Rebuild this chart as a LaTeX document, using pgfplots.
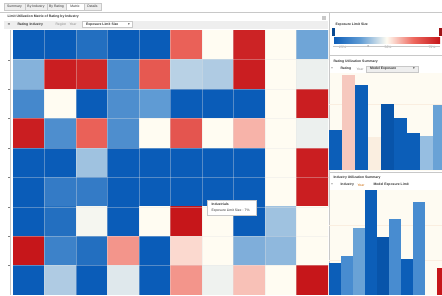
\documentclass[border=0pt]{standalone}
\usepackage{pgfplots}
\pgfplotsset{compat=1.18}
\usepackage{fontspec}
\setmainfont{Liberation Sans}
\newfontfamily\symf{DejaVu Sans}
\definecolor{dblue}{RGB}{12,94,184}
\definecolor{ddblue}{RGB}{8,84,170}
\definecolor{mblue}{RGB}{72,140,208}
\definecolor{mlblue}{RGB}{105,162,214}
\definecolor{lblue}{RGB}{150,190,225}
\definecolor{lpink}{RGB}{246,200,190}
\definecolor{cream}{RGB}{254,251,242}
\definecolor{pcream}{RGB}{250,238,224}
\definecolor{dred}{RGB}{198,22,26}
\definecolor{tbgray}{RGB}{238,238,238}
\definecolor{lgray}{RGB}{200,200,200}
\definecolor{txt}{RGB}{50,50,50}
\definecolor{ltxt}{RGB}{140,140,140}
\newcommand\tf{\fontsize{3.4}{4}\selectfont}
\begin{document}
\begin{tikzpicture}[font=\tf]
\useasboundingbox (0pt,0pt) rectangle (442pt,-295pt);
\fill[white] (0pt,0pt) rectangle (442pt,-295pt);
% tabs
\draw[lgray, fill=tbgray] (4pt,-3pt) rectangle (25pt,-10pt);
\draw[lgray, fill=tbgray] (25pt,-3pt) rectangle (47pt,-10pt);
\draw[lgray, fill=tbgray] (47pt,-3pt) rectangle (66pt,-10pt);
\draw[lgray, fill=white] (66pt,-3pt) rectangle (84pt,-10pt);
\draw[lgray, fill=tbgray] (84pt,-3pt) rectangle (101pt,-10pt);
\node[txt] at (14.5pt,-6.5pt) {Summary};
\node[txt] at (36pt,-6.5pt) {By Industry};
\node[txt] at (56.5pt,-6.5pt) {By Rating};
\node[txt] at (75pt,-6.5pt) {Matrix};
\node[txt] at (92.5pt,-6.5pt) {Details};
\draw[lgray] (0pt,-12pt) -- (442pt,-12pt);
% left title and toolbar
\node[anchor=west, txt, font=\tf\bfseries] at (4pt,-16.5pt) {Limit Utilization Matrix of Rating by Industry};
\fill[tbgray] (4pt,-20.5pt) rectangle (328pt,-28.5pt);
\node[txt] at (9pt,-24.5pt) {\symf ≡};
\node[anchor=west, txt, font=\tf\bfseries] at (14pt,-24.5pt) {Rating};
\node[anchor=west, txt, font=\tf\bfseries] at (26pt,-24.5pt) {Industry};
\node[anchor=west, ltxt] at (52pt,-24.5pt) {Region};
\node[anchor=west, ltxt] at (66pt,-24.5pt) {Year};
\draw[lgray, fill=white] (82pt,-21.5pt) rectangle (132pt,-27.5pt);
\node[anchor=west, txt, font=\tf\bfseries] at (82.5pt,-24.5pt) {Exposure Limit Size};
\node[txt] at (129pt,-24.5pt) {\symf ▾};
\fill[lgray] (322pt,-16pt) rectangle (326pt,-20pt);
% separators
\draw[lgray] (329pt,-12pt) -- (329pt,-295pt);
\draw[lgray] (10pt,-30pt) -- (10pt,-295pt);
\foreach \yy in {60,89,118,148,177,207,236,265} {\draw[gray] (8pt,-\yy pt) -- (10pt,-\yy pt);}
% right panels background
\fill[cream] (330pt,-73pt) rectangle (442pt,-171pt);
\fill[cream] (330pt,-190pt) rectangle (442pt,-295pt);
\draw[lgray] (329pt,-55pt) -- (442pt,-55pt);
\draw[lgray] (329pt,-172pt) -- (442pt,-172pt);
% heatmap
\begin{axis}[
  at={(13pt,-30pt)}, anchor=north west,
  width=315pt, height=265pt, scale only axis,
  xmin=-0.5, xmax=9.5, ymin=-0.5, ymax=8.5, y dir=reverse,
  colormap={bluered}{rgb255=(10,92,184) rgb255=(95,155,212) rgb255=(255,252,242) rgb255=(238,105,95) rgb255=(198,22,26)},
  point meta min=-1, point meta max=1,
  xtick={0.5,1.5,...,8.5}, ytick={0.5,1.5,...,7.5},
  xticklabels={}, yticklabels={},
  major tick length=0pt,
  grid=major, major grid style={white!80!gray, line width=0.3pt, opacity=0.35},
  axis on top, axis line style={draw=none},
  colorbar horizontal,
  colorbar style={
    at={(parent axis.north east)}, anchor=north west, xshift=5pt, yshift=1pt,
    width=107pt, height=6pt, scale only axis,
    xtick={-0.82,0.03,0.85}, xticklabels={25\%,50\%,75\%},
    major tick length=0pt, axis line style={draw=none},
    xticklabel style={font=\tf, text=ltxt},
    xticklabel shift=-1pt,
  },
]
\addplot[matrix plot*, point meta=explicit, mesh/cols=10] table[meta=c] {
x y c
0 0 -1
1 0 -1
2 0 -0.85
3 0 -1
4 0 -1
5 0 0.55
6 0 0.0
7 0 0.92
8 0 0.0
9 0 -0.45
0 1 -0.38
1 1 0.95
2 1 0.9
3 1 -0.62
4 1 0.6
5 1 -0.22
6 1 -0.25
7 1 0.95
8 1 0.0
9 1 -0.06
0 2 -0.65
1 2 0.0
2 2 -1
3 2 -0.6
4 2 -0.5
5 2 -1
6 2 -1
7 2 -1
8 2 0.0
9 2 0.95
0 3 0.95
1 3 -0.6
2 3 0.55
3 3 -0.6
4 3 0.0
5 3 0.62
6 3 0.0
7 3 0.25
8 3 0.0
9 3 -0.06
0 4 -1
1 4 -1
2 4 -0.3
3 4 -1
4 4 -1
5 4 -1
6 4 -1
7 4 -1
8 4 0.0
9 4 0.95
0 5 -1
1 5 -0.75
2 5 -0.75
3 5 -1
4 5 -1
5 5 -1
6 5 -1
7 5 -1
8 5 0.0
9 5 0.95
0 6 -1
1 6 -0.85
2 6 -0.03
3 6 -1
4 6 0.0
5 6 1.0
6 6 0.0
7 6 -1
8 6 -0.3
9 6 0.0
0 7 1.0
1 7 -0.7
2 7 -0.85
3 7 0.35
4 7 -1
5 7 0.12
6 7 0.0
7 7 -0.4
8 7 -0.35
9 7 0.0
0 8 -1
1 8 -0.25
2 8 -1
3 8 -0.1
4 8 -1
5 8 0.35
6 8 -0.05
7 8 0.2
8 8 0.0
9 8 1.0
};
\end{axis}
% tooltip
\draw[lgray, fill=white] (207pt,-200pt) rectangle (256pt,-215pt);
\node[anchor=west, txt, font=\tf\bfseries] at (208pt,-204pt) {Industrials};
\node[anchor=west, txt] at (208pt,-211pt) {Exposure Limit Size : 7\%};
% colorbar decorations
\node[anchor=west, txt, font=\tf\bfseries] at (332pt,-25pt) {Exposure Limit Size};
\fill[dblue!80!black] (332pt,-28pt) rectangle (335pt,-36pt);
\fill[dred!80!black] (439pt,-28pt) rectangle (442pt,-36pt);
\draw[lgray] (333pt,-46pt) -- (440pt,-46pt);
\fill[gray!60] (368pt,-46pt) circle (1pt);
% ranking panel header
\node[anchor=west, txt, font=\tf\bfseries] at (330pt,-61.5pt) {Rating Utilization Summary};
\node[txt] at (332pt,-69pt) {+};
\node[anchor=west, txt, font=\tf\bfseries] at (337pt,-69pt) {Rating};
\node[anchor=west, ltxt] at (353pt,-69pt) {Year};
\draw[lgray, fill=tbgray] (366pt,-66pt) rectangle (418pt,-72pt);
\node[anchor=west, txt, font=\tf\bfseries] at (366.5pt,-69pt) {Model Exposure};
\node[txt] at (414pt,-69pt) {\symf ▾};
\begin{axis}[
  at={(329pt,-73pt)}, anchor=north west, width=113pt, height=97pt, scale only axis,
  xmin=-0.5, xmax=8.19, ymin=0, ymax=97,
  xtick=\empty, ytick={33,66}, yticklabels={}, major tick length=0pt,
  ymajorgrids, major grid style={pcream, line width=0.4pt},
  axis line style={draw=none},
]
\addplot[ybar, bar shift=0pt, bar width=0.96, fill=dblue, draw=none] coordinates {(0,40)};
\addplot[ybar, bar shift=0pt, bar width=0.96, fill=lpink, draw=none] coordinates {(1,95)};
\addplot[ybar, bar shift=0pt, bar width=0.96, fill=dblue, draw=none] coordinates {(2,85)};
\addplot[ybar, bar shift=0pt, bar width=0.96, fill=pcream, draw=none] coordinates {(3,33)};
\addplot[ybar, bar shift=0pt, bar width=0.96, fill=ddblue, draw=none] coordinates {(4,66)};
\addplot[ybar, bar shift=0pt, bar width=0.96, fill=dblue, draw=none] coordinates {(5,52)};
\addplot[ybar, bar shift=0pt, bar width=0.96, fill=dblue, draw=none] coordinates {(6,37)};
\addplot[ybar, bar shift=0pt, bar width=0.96, fill=lblue, draw=none] coordinates {(7,34)};
\addplot[ybar, bar shift=0pt, bar width=0.96, fill=mlblue, draw=none] coordinates {(8,65)};
\end{axis}
% industry panel header
\node[anchor=west, txt, font=\tf\bfseries] at (330pt,-177.5pt) {Industry Utilization Summary};
\node[txt] at (332pt,-185pt) {+};
\node[anchor=west, txt, font=\tf\bfseries] at (337pt,-185pt) {Industry};
\node[anchor=west, text=orange!80!black] at (354pt,-185pt) {Year};
\node[anchor=west, txt, font=\tf\bfseries] at (370pt,-185pt) {Model Exposure Limit};
\begin{axis}[
  at={(329pt,-190pt)}, anchor=north west, width=113pt, height=105pt, scale only axis,
  xmin=-0.5, xmax=8.92, ymin=0, ymax=105,
  xtick=\empty, ytick={35,70}, yticklabels={}, major tick length=0pt,
  ymajorgrids, major grid style={pcream, line width=0.4pt},
  axis line style={draw=none},
]
\addplot[ybar, bar shift=0pt, bar width=0.95, fill=dblue, draw=none] coordinates {(0,32)};
\addplot[ybar, bar shift=0pt, bar width=0.95, fill=mblue, draw=none] coordinates {(1,39)};
\addplot[ybar, bar shift=0pt, bar width=0.95, fill=mlblue, draw=none] coordinates {(2,67)};
\addplot[ybar, bar shift=0pt, bar width=0.95, fill=dblue, draw=none] coordinates {(3,105)};
\addplot[ybar, bar shift=0pt, bar width=0.95, fill=ddblue, draw=none] coordinates {(4,58)};
\addplot[ybar, bar shift=0pt, bar width=0.95, fill=mblue, draw=none] coordinates {(5,76)};
\addplot[ybar, bar shift=0pt, bar width=0.95, fill=dblue, draw=none] coordinates {(6,36)};
\addplot[ybar, bar shift=0pt, bar width=0.95, fill=mblue, draw=none] coordinates {(7,93)};
\addplot[ybar, bar shift=0pt, bar width=0.95, fill=dred, draw=none] coordinates {(9,27)};
\end{axis}
\end{tikzpicture}
\end{document}
